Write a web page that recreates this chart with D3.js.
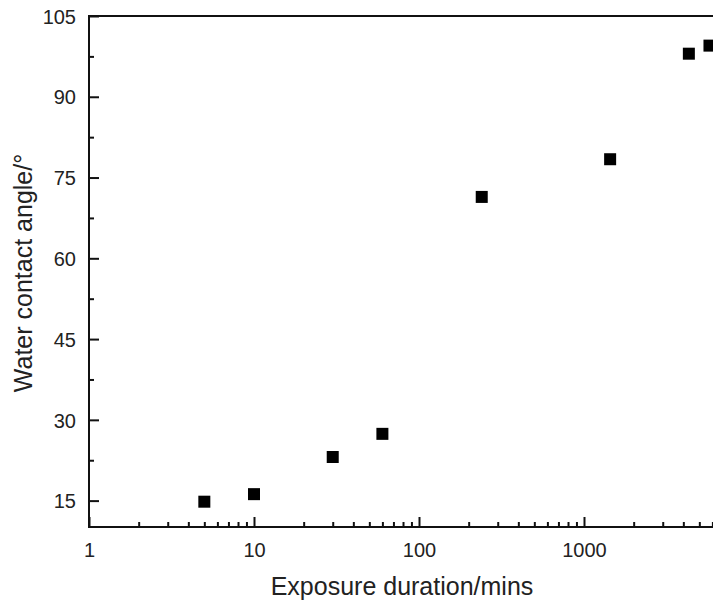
<!DOCTYPE html>
<html>
<head>
<meta charset="utf-8">
<script src="https://cdn.jsdelivr.net/npm/d3@7"></script>
<style>
  html, body { margin: 0; padding: 0; background: #fff; }
  svg { display: block; }
  text { font-family: "Liberation Sans", Arial, sans-serif; fill: #222; }
</style>
</head>
<body>
<svg id="chart" width="713" height="605"></svg>
<script>
// Data
const exposureMins = [5, 10, 30, 60, 240, 1440, 4320, 5760];
const contactAngle = [14.8, 16.2, 23.1, 27.4, 71.4, 78.4, 98.0, 99.5];
const yTickValues = [15, 30, 45, 60, 75, 90, 105];
const xTickValues = [1, 10, 100, 1000];

const svg = d3.select("#chart");
const plotLeft = 89, plotTop = 16, plotBottom = 527, plotRight = 749;

const x = d3.scaleLog().domain([1, 10000]).range([plotLeft, plotRight]);
const y = d3.scaleLinear().domain([10.1, 105]).range([plotBottom, plotTop]);

const axisColor = "#111";

// Minor ticks
const xMinor = [];
for (let d = 1; d < 10000; d *= 10) for (let k = 2; k <= 9; k++) xMinor.push(d * k);
const yMinor = yTickValues.slice(0, -1).map(v => v + 7.5);

// Top border line
svg.append("line").attr("x1", plotLeft).attr("x2", 713).attr("y1", plotTop).attr("y2", plotTop)
  .attr("stroke", axisColor).attr("stroke-width", 2);

// X axis
const gxMin = svg.append("g").attr("transform", `translate(0,${plotBottom})`)
  .call(d3.axisTop(x).tickValues(xMinor).tickSize(5).tickFormat(""));
gxMin.select(".domain").remove();
const gxMaj = svg.append("g").attr("transform", `translate(0,${plotBottom})`)
  .call(d3.axisTop(x).tickValues(xTickValues).tickSize(10).tickFormat(d3.format("d")));
gxMaj.select(".domain").remove();
gxMaj.selectAll("text").attr("y", 30).attr("dy", 0).style("font-size", "20px");
svg.append("line").attr("x1", plotLeft - 1).attr("x2", 713).attr("y1", plotBottom).attr("y2", plotBottom)
  .attr("stroke", axisColor).attr("stroke-width", 2);

// Y axis
const gyMin = svg.append("g").attr("transform", `translate(${plotLeft},0)`)
  .call(d3.axisRight(y).tickValues(yMinor).tickSize(5).tickFormat(""));
gyMin.select(".domain").remove();
const gy = svg.append("g").attr("transform", `translate(${plotLeft},0)`)
  .call(d3.axisRight(y).tickValues(yTickValues).tickSize(10));
gy.select(".domain").remove();
gy.selectAll("text").attr("x", -13).attr("text-anchor", "end").attr("dy", "0.36em")
  .style("font-size", "20px");
svg.selectAll(".tick line").attr("stroke", axisColor).attr("stroke-width", 2);
svg.selectAll(".tick text").attr("fill", "#222").style("font-family", '"Liberation Sans", Arial, sans-serif');
svg.append("line").attr("x1", plotLeft).attr("x2", plotLeft).attr("y1", plotTop - 1).attr("y2", plotBottom + 1)
  .attr("stroke", axisColor).attr("stroke-width", 2);

// Points
const size = 12;
svg.append("g").selectAll("rect")
  .data(exposureMins.map((m, i) => ({ m, a: contactAngle[i] })))
  .join("rect")
  .attr("x", d => x(d.m) - size / 2)
  .attr("y", d => y(d.a) - size / 2)
  .attr("width", size).attr("height", size)
  .attr("fill", "#000");

// Axis titles
svg.append("text").attr("x", 402).attr("y", 595).attr("text-anchor", "middle")
  .style("font-size", "25px").text("Exposure duration/mins");
svg.append("text").attr("transform", `translate(32,273) rotate(-90)`)
  .attr("text-anchor", "middle").style("font-size", "25px").text("Water contact angle/°");
</script>
</body>
</html>
